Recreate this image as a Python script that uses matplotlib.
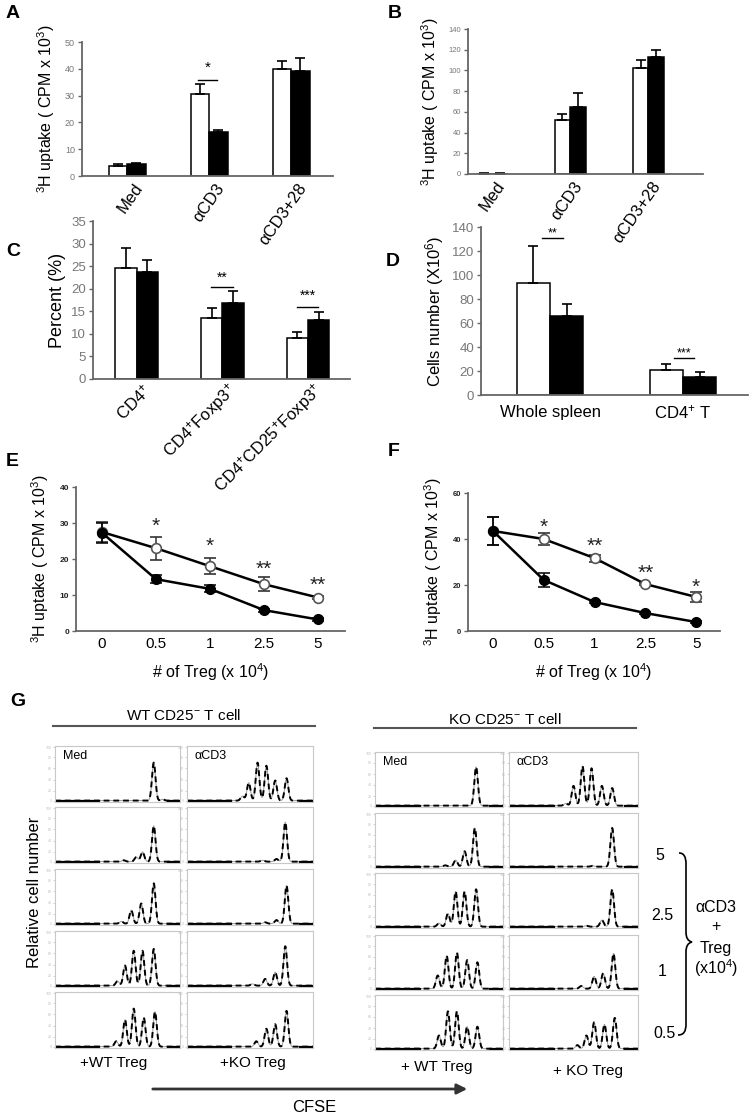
import numpy as np
import matplotlib.pyplot as plt
from matplotlib.path import Path
from matplotlib.patches import PathPatch

plt.rcParams['font.family'] = ['Liberation Sans', 'DejaVu Sans']
plt.rcParams['mathtext.fontset'] = 'custom'
plt.rcParams['mathtext.rm'] = 'Liberation Sans'
plt.rcParams['mathtext.it'] = 'Liberation Sans:italic'
plt.rcParams['mathtext.bf'] = 'Liberation Sans:bold'
plt.rcParams['axes.facecolor'] = 'none'

# ---- data ----
a_cats = ['Med', 'αCD3', 'αCD3+28']
a_wt = [3.8, 30.5, 39.8]
a_wt_err = [0.5, 4.0, 3.0]
a_ko = [4.3, 16.5, 39.2]
a_ko_err = [0.5, 0.5, 4.8]

b_cats = ['Med', 'αCD3', 'αCD3+28']
b_wt = [0.4, 52, 102]
b_wt_err = [0.3, 6, 8]
b_ko = [0.4, 65, 113]
b_ko_err = [0.3, 13, 7]

c_cats = ['CD4$^{+}$', 'CD4$^{+}$Foxp3$^{+}$', 'CD4$^{+}$CD25$^{+}$Foxp3$^{+}$']
c_wt = [24.5, 13.6, 9.0]
c_wt_err = [4.5, 2.2, 1.4]
c_ko = [23.8, 16.8, 13.0]
c_ko_err = [2.6, 2.6, 1.8]

d_cats = ['Whole spleen', 'CD4$^{+}$ T']
d_wt = [93, 21]
d_wt_err = [31, 5]
d_ko = [66, 15]
d_ko_err = [10, 4]

treg = ['0', '0.5', '1', '2.5', '5']
e_open = [27.5, 23.0, 18.0, 13.0, 9.3]
e_open_err = [2.8, 3.2, 2.3, 2.0, 0.5]
e_filled = [27.3, 14.4, 11.7, 5.8, 3.2]
e_filled_err = [2.8, 1.2, 1.0, 0.4, 0.4]
e_stars = ['', '*', '*', '**', '**']
e_star_y = [0, 29.0, 23.6, 17.0, 12.8]

f_open = [43.5, 40.0, 31.7, 20.4, 14.8]
f_open_err = [6.0, 2.5, 1.5, 0.5, 2.0]
f_filled = [43.5, 22.2, 12.6, 7.8, 3.9]
f_filled_err = [6.0, 3.0, 0.5, 0.5, 0.5]
f_stars = ['', '*', '**', '**', '*']
f_star_y = [0, 45.0, 37.0, 25.0, 19.0]

# CFSE histograms: (peak position, peak height) per box, rows top->bottom
g_treg_rows = ['5', '2.5', '1', '0.5']
wt_left = [
    [(0.79, 0.85), (0.86, 0.03)],
    [(0.79, 0.80), (0.70, 0.22), (0.65, 0.10), (0.55, 0.03)],
    [(0.79, 0.90), (0.69, 0.45), (0.61, 0.30), (0.53, 0.05)],
    [(0.56, 0.45), (0.63, 0.78), (0.70, 0.78), (0.79, 0.82), (0.50, 0.10)],
    [(0.56, 0.60), (0.63, 0.85), (0.71, 0.65), (0.80, 0.78), (0.49, 0.12)],
]
wt_right = [
    [(0.44, 0.10), (0.49, 0.40), (0.56, 0.85), (0.63, 0.78), (0.70, 0.45), (0.79, 0.50)],
    [(0.78, 0.88), (0.71, 0.06), (0.60, 0.03)],
    [(0.79, 0.85), (0.71, 0.08), (0.62, 0.03)],
    [(0.78, 0.88), (0.70, 0.30), (0.62, 0.15), (0.52, 0.04)],
    [(0.79, 0.80), (0.70, 0.50), (0.63, 0.40), (0.55, 0.12)],
]
ko_left = [
    [(0.79, 0.88)],
    [(0.78, 0.88), (0.70, 0.35), (0.63, 0.15), (0.55, 0.03)],
    [(0.79, 0.85), (0.70, 0.80), (0.63, 0.80), (0.57, 0.30), (0.50, 0.08)],
    [(0.80, 0.60), (0.72, 0.65), (0.64, 0.82), (0.56, 0.75), (0.49, 0.30)],
    [(0.80, 0.50), (0.72, 0.50), (0.64, 0.85), (0.57, 0.85), (0.50, 0.30)],
]
ko_right = [
    [(0.80, 0.40), (0.72, 0.45), (0.64, 0.85), (0.57, 0.90), (0.50, 0.45), (0.44, 0.05)],
    [(0.80, 0.88), (0.65, 0.02)],
    [(0.80, 0.85), (0.72, 0.15), (0.60, 0.02)],
    [(0.81, 0.80), (0.73, 0.35), (0.66, 0.28), (0.56, 0.06)],
    [(0.82, 0.70), (0.74, 0.55), (0.66, 0.60), (0.60, 0.30), (0.53, 0.08)],
]

W, H = 755, 1119
fig = plt.figure(figsize=(W / 100, H / 100), dpi=100)

ov = fig.add_axes([0, 0, 1, 1])
ov.set_xlim(0, W)
ov.set_ylim(H, 0)
ov.axis('off')


def px_axes(x0, y0, x1, y1):
    return fig.add_axes([x0 / W, 1 - y1 / H, (x1 - x0) / W, (y1 - y0) / H])


def style_axes(ax, tick_fs, tick_color='#777', bold=False):
    for s in ['top', 'right']:
        ax.spines[s].set_visible(False)
    for s in ['left', 'bottom']:
        ax.spines[s].set_color('#666')
        ax.spines[s].set_linewidth(1.3)
    ax.tick_params(axis='y', colors='#666', labelcolor=tick_color, labelsize=tick_fs,
                   length=3, width=1, pad=2)
    if bold:
        for t in ax.get_yticklabels():
            t.set_fontweight('bold')
    ax.tick_params(axis='x', length=0)


def bar_panel(rect, cats, wt, wt_err, ko, ko_err, width, xlim, ylim, yticks,
              tick_fs, rot, lab_dx, lab_dy, lab_fs):
    ax = px_axes(*rect)
    x = np.arange(len(cats))
    z = np.zeros(len(cats))
    ekw = dict(elinewidth=1.2, capthick=1.2, ecolor='black')
    ax.bar(x - width / 2, wt, width, color='white', edgecolor='black', lw=1.1,
           yerr=[z, wt_err], capsize=3.5, error_kw=ekw)
    ax.bar(x + width / 2, ko, width, color='black', edgecolor='black', lw=1.1,
           yerr=[z, ko_err], capsize=3.5, error_kw=ekw)
    ax.set_xlim(*xlim)
    ax.set_ylim(*ylim)
    ax.set_yticks(yticks)
    ax.set_xticks([])
    style_axes(ax, tick_fs)
    for i, c in enumerate(cats):
        if rot:
            ax.annotate(c, (i, 0), xycoords=('data', 'axes fraction'),
                        xytext=(lab_dx * 0.72, -lab_dy * 0.72), textcoords='offset points',
                        rotation=rot, ha='right', va='center', rotation_mode='anchor',
                        fontsize=lab_fs)
        else:
            ax.annotate(c, (i, 0), xycoords=('data', 'axes fraction'),
                        xytext=(0, -lab_dy * 0.72), textcoords='offset points',
                        ha='center', va='center', fontsize=lab_fs)
    return ax


def sig(ax, x0, x1, y, ytxt, stars, fs=11):
    ax.plot([x0, x1], [y, y], color='black', lw=1)
    ax.text((x0 + x1) / 2, ytxt, stars, ha='center', va='center', fontsize=fs)


# A
axA = bar_panel((82, 42, 333, 176), a_cats, a_wt, a_wt_err, a_ko, a_ko_err, 0.225,
                (-0.55, 2.51), (0, 50), range(0, 51, 10), 6.5, 55, 12, 9, 12)
sig(axA, 0.87, 1.1, 35.8, 40.3, '*')
axA.set_ylabel('$^{3}$H uptake ( CPM x 10$^{3}$)', fontsize=11.5, labelpad=6)

# B
axB = bar_panel((468, 29, 703, 174), b_cats, b_wt, b_wt_err, b_ko, b_ko_err, 0.2,
                (-0.31, 2.7), (0, 140), range(0, 141, 20), 5.5, 55, 9, 9, 12)
axB.set_ylabel('$^{3}$H uptake ( CPM x 10$^{3}$)', fontsize=11.5, labelpad=5)

# C
axC = bar_panel((93, 221, 350, 379), c_cats, c_wt, c_wt_err, c_ko, c_ko_err, 0.25,
                (-0.51, 2.49), (0, 35), range(0, 36, 5), 9.5, 45, 12, 8, 12)
sig(axC, 0.87, 1.12, 20.4, 22.5, '**', 10)
sig(axC, 1.87, 2.12, 16.0, 18.4, '***', 10)
axC.set_ylabel('Percent (%)', fontsize=13, labelpad=4)

# D
axD = bar_panel((481, 227, 748, 395), d_cats, d_wt, d_wt_err, d_ko, d_ko_err, 0.25,
                (-0.52, 1.49), (0, 140), range(0, 141, 20), 9.5, 0, 0, 17, 12)
sig(axD, -0.06, 0.1, 131, 135, '**', 9)
sig(axD, 0.93, 1.08, 31, 35, '***', 9)
axD.set_ylabel('Cells number (X10$^{6}$)', fontsize=12, labelpad=4)


def line_panel(rect, yop, yop_err, yfi, yfi_err, stars, star_y, xlim, ylim, yticks, tick_fs):
    ax = px_axes(*rect)
    x = np.arange(len(treg))
    ax.errorbar(x, yop, yerr=yop_err, fmt='-o', color='black', lw=1.8,
                mfc='white', mec='#555', ms=7, mew=1.2, capsize=4, elinewidth=1.1,
                ecolor='#333', capthick=1.1, zorder=2)
    ax.errorbar(x, yfi, yerr=yfi_err, fmt='-o', color='black', lw=1.8,
                mfc='black', mec='black', ms=7, capsize=4, elinewidth=1.1,
                ecolor='black', capthick=1.1, zorder=3)
    for i, s in enumerate(stars):
        if s:
            ax.text(i, star_y[i], s, ha='center', va='center', fontsize=15, color='#222')
    ax.set_xlim(*xlim)
    ax.set_ylim(*ylim)
    ax.set_yticks(yticks)
    ax.set_xticks(x)
    ax.set_xticklabels(treg)
    style_axes(ax, tick_fs, tick_color='#222', bold=True)
    ax.tick_params(axis='x', labelsize=11, pad=4)
    ax.set_xlabel('# of Treg (x 10$^{4}$)', fontsize=11.5, labelpad=8)
    ax.set_ylabel('$^{3}$H uptake ( CPM x 10$^{3}$)', fontsize=11.5, labelpad=6)
    return ax


axE = line_panel((76, 487, 345, 631), e_open, e_open_err, e_filled, e_filled_err,
                 e_stars, e_star_y, (-0.48, 4.5), (0, 40), range(0, 41, 10), 6)
axF = line_panel((468, 493, 720, 631), f_open, f_open_err, f_filled, f_filled_err,
                 f_stars, f_star_y, (-0.49, 4.47), (0, 60), range(0, 61, 20), 5.5)

# panel letters
for lab, (lx, ly) in zip('ABCDEFG', [(13, 14), (395, 14), (13, 252), (393, 262),
                                      (12, 462), (394, 452), (18, 702)]):
    ov.text(lx, ly, lab, fontsize=14, fontweight='bold', ha='center', va='center')


# G histograms
def hist_box(x0, y0, x1, y1, peaks, label=None):
    ax = px_axes(x0, y0, x1, y1)
    xs = np.linspace(0, 1, 500)
    ys = np.full_like(xs, 0.03)
    for p, h in peaks:
        ys = ys + h * np.exp(-0.5 * ((xs - p) / 0.014) ** 2)
    ax.plot(xs, ys, color='#999', lw=0.7)
    ax.plot(xs, ys, color='black', lw=1.4, dashes=(3, 2))
    ax.plot([0, 0.35], [0.03, 0.03], color='black', lw=1.6)
    ax.plot([0.9, 1], [0.03, 0.03], color='black', lw=1.6)
    ax.set_xlim(0, 1)
    ax.set_ylim(0, 1.25)
    for s in ax.spines.values():
        s.set_color('#c8c8c8')
        s.set_linewidth(0.8)
    ax.set_xticks([])
    ax.set_yticks([0.03, 0.25, 0.5, 0.75, 1.0, 1.22])
    ax.set_yticklabels(['0', '20', '40', '60', '80', '100'])
    ax.tick_params(axis='y', length=1.5, width=0.5, colors='#c0c0c0', labelsize=2.5, pad=1)
    if label:
        ax.text(0.06, 0.82, label, transform=ax.transAxes, fontsize=9, va='center')
    return ax


wt_tops = [746, 807, 869, 931, 992]
ko_tops = [752, 813, 873, 935, 995]
for r in range(5):
    t = wt_tops[r]
    hist_box(55, t, 180, t + 56, wt_left[r], 'Med' if r == 0 else None)
    hist_box(187, t, 313, t + 56, wt_right[r], 'αCD3' if r == 0 else None)
    t = ko_tops[r]
    hist_box(375, t, 503, t + 55, ko_left[r], 'Med' if r == 0 else None)
    hist_box(509, t, 638, t + 55, ko_right[r], 'αCD3' if r == 0 else None)

# G annotations
ov.plot([53, 315], [726, 726], color='#555', lw=1.5)
ov.text(184, 716, 'WT CD25$^{-}$ T cell', fontsize=11, ha='center', va='center')
ov.plot([374, 636], [728, 728], color='#555', lw=1.5)
ov.text(505, 720, 'KO CD25$^{-}$ T cell', fontsize=11, ha='center', va='center')
ov.text(35, 892, 'Relative cell number', fontsize=12, rotation=90, ha='center', va='center')
ov.text(114, 1063, '+WT Treg', fontsize=11, ha='center', va='center')
ov.text(253, 1063, '+KO Treg', fontsize=11, ha='center', va='center')
ov.text(437, 1067, '+ WT Treg', fontsize=11, ha='center', va='center')
ov.text(588, 1071, '+ KO Treg', fontsize=11, ha='center', va='center')
ov.annotate('', xy=(470, 1089), xytext=(150, 1089),
            arrowprops=dict(arrowstyle='-|>', lw=2, color='#333', mutation_scale=15))
ov.text(314, 1107, 'CFSE', fontsize=12, ha='center', va='center')

for lab, (tx, ty) in zip(g_treg_rows, [(660, 855), (662, 916), (662, 971), (665, 1033)]):
    ov.text(tx, ty, lab, fontsize=11.5, ha='center', va='center')

verts = [(679, 853), (684, 853), (686, 857), (686, 864),
         (686, 932),
         (686, 938), (688, 941), (692, 942),
         (688, 943), (686, 946), (686, 952),
         (686, 1024),
         (686, 1031), (684, 1035), (678, 1035)]
codes = [Path.MOVETO, Path.CURVE4, Path.CURVE4, Path.CURVE4,
         Path.LINETO,
         Path.CURVE4, Path.CURVE4, Path.CURVE4,
         Path.CURVE4, Path.CURVE4, Path.CURVE4,
         Path.LINETO,
         Path.CURVE4, Path.CURVE4, Path.CURVE4]
ov.add_patch(PathPatch(Path(verts, codes), fill=False, lw=1.2, color='black'))
for txt, ty in [('αCD3', 907), ('+', 927), ('Treg', 948), ('(x10$^{4}$)', 968)]:
    ov.text(716, ty, txt, fontsize=11.5, ha='center', va='center')

fig.savefig('out.png', dpi=100, facecolor='white')
